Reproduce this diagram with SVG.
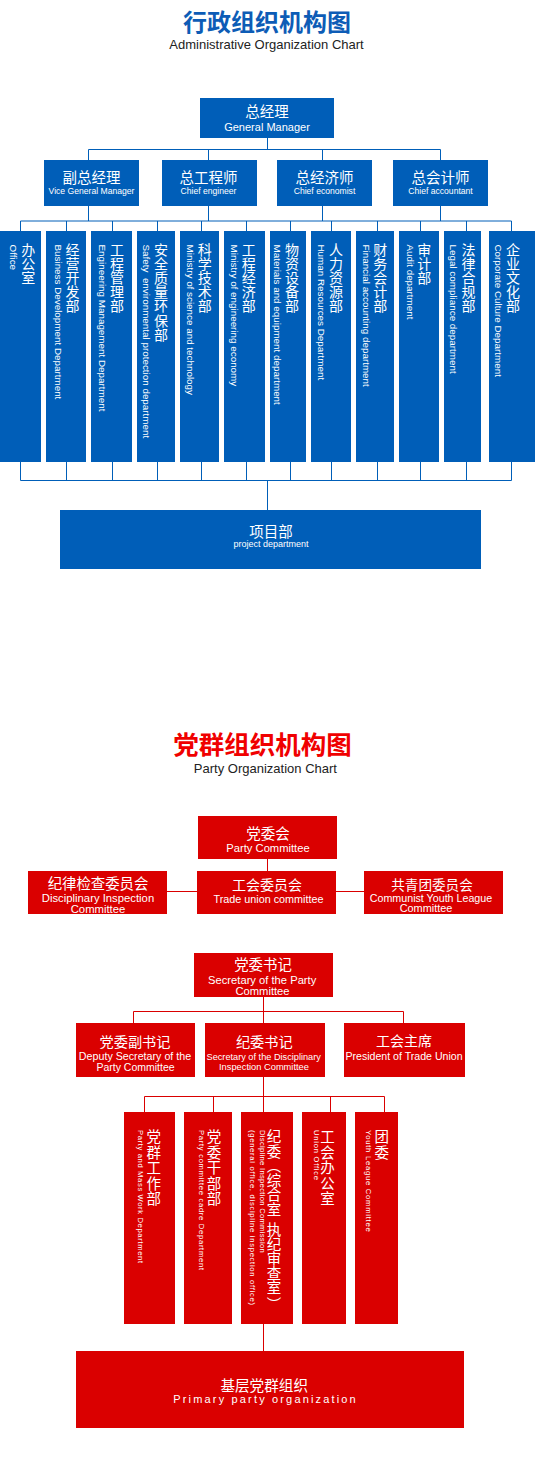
<svg xmlns="http://www.w3.org/2000/svg" width="535" height="1471" viewBox="0 0 535 1471">
<style>
.bb{fill:#005EB8}
.rb{fill:#DA0000}
.bl{stroke:#005EB8;stroke-width:1;fill:none}
.rl{stroke:#DA0000;stroke-width:1;fill:none}
.cn{font-family:"Noto Sans CJK SC",sans-serif;fill:#fff;text-anchor:middle}
.en{font-family:"Liberation Sans",Arial,sans-serif;fill:#fff;text-anchor:middle}
.ve{font-family:"Liberation Sans",Arial,sans-serif;fill:#fff;font-size:9.85px}
.vs{font-family:"Liberation Sans",Arial,sans-serif;fill:#fff;font-size:7.6px}
.vc{font-family:"Noto Sans CJK SC",sans-serif;fill:#fff;text-anchor:middle;font-size:14px}
.vr{font-family:"Noto Sans CJK SC",sans-serif;fill:#fff;text-anchor:middle;font-size:14.5px}
.tt{font-family:"Noto Sans CJK SC",sans-serif;font-weight:bold;text-anchor:middle}
.st{font-family:"Liberation Sans",Arial,sans-serif;fill:#222;text-anchor:middle;font-size:13px}
</style>
<rect x="0" y="0" width="535" height="1471" fill="#fff"/>

<g id="title-admin">
<text class="tt" x="267" y="31" font-size="24" fill="#0D5CB6">行政组织机构图</text>
<text class="st" x="266.5" y="48.5">Administrative Organization Chart</text>
</g>

<g id="connectors-admin">
<path class="bl" d="M267.5 138V149.5M88.5 149.5H440.5M88.5 149.5V160M208.5 149.5V160M322.5 149.5V160M440.5 149.5V160M88.5 206V221M208.5 206V221M322.5 206V221M440.5 206V221M20.5 221H511.5M20.5 221V231M66.5 221V231M112.5 221V231M157.5 221V231M201.5 221V231M246.5 221V231M290.5 221V231M331.5 221V231M377.5 221V231M420.5 221V231M466.5 221V231M511.5 221V231M20.5 462V480.5M66.5 462V480.5M112.5 462V480.5M157.5 462V480.5M201.5 462V480.5M246.5 462V480.5M290.5 462V480.5M331.5 462V480.5M377.5 462V480.5M420.5 462V480.5M466.5 462V480.5M511.5 462V480.5M20.5 480.5H511.5M267.5 480.5V510"/>
</g>

<g id="gm">
<rect class="bb" x="200" y="98" width="134" height="40"/>
<text class="cn" x="267" y="117" font-size="14.5">总经理</text>
<text class="en" x="267" y="131" font-size="11">General Manager</text>
</g>
<g id="vgm">
<rect class="bb" x="44" y="160" width="95" height="46"/>
<text class="cn" x="91.5" y="182.5" font-size="14.5">副总经理</text>
<text class="en" x="91.5" y="193.5" font-size="8.6">Vice General Manager</text>
</g>
<g id="chief-engineer">
<rect class="bb" x="162" y="160" width="95" height="46"/>
<text class="cn" x="208.5" y="182.5" font-size="14.5">总工程师</text>
<text class="en" x="208.5" y="193.5" font-size="8.6">Chief engineer</text>
</g>
<g id="chief-economist">
<rect class="bb" x="277" y="160" width="95" height="46"/>
<text class="cn" x="324.5" y="182.5" font-size="14.5">总经济师</text>
<text class="en" x="324.5" y="193.5" font-size="8.6">Chief economist</text>
</g>
<g id="chief-accountant">
<rect class="bb" x="393" y="160" width="95" height="46"/>
<text class="cn" x="440.5" y="182.5" font-size="14.5">总会计师</text>
<text class="en" x="440.5" y="193.5" font-size="8.6">Chief accountant</text>
</g>

<g id="office">
<rect class="bb" x="0" y="231" width="41" height="231"/>
<text class="vc" x="28.3 28.3 28.3" y="255 269.1 283.2">办公室</text>
<text class="ve" transform="translate(10.3 244.5) rotate(90)">Office</text>
</g>
<g id="business-dev">
<rect class="bb" x="46" y="231" width="40" height="231"/>
<text class="vc" x="72.5 72.5 72.5 72.5 72.5" y="255 269.1 283.2 297.3 311.4">经营开发部</text>
<text class="ve" transform="translate(54.5 244.5) rotate(90)">Business Development Department</text>
</g>
<g id="eng-mgmt">
<rect class="bb" x="91" y="231" width="41" height="231"/>
<text class="vc" x="117 117 117 117 117" y="255 269.1 283.2 297.3 311.4">工程管理部</text>
<text class="ve" transform="translate(99 244.5) rotate(90)">Engineering Management Department</text>
</g>
<g id="safety">
<rect class="bb" x="137" y="231" width="38" height="231"/>
<text class="vc" x="161 161 161 161 161 161 161" y="255 269.1 283.2 297.3 311.4 325.5 339.6">安全质量环保部</text>
<text class="ve" transform="translate(143.3 244.5) rotate(90)">Safety&#160; environmental protection department</text>
</g>
<g id="sci-tech">
<rect class="bb" x="180" y="231" width="39" height="231"/>
<text class="vc" x="204.7 204.7 204.7 204.7 204.7" y="255 269.1 283.2 297.3 311.4">科学技术部</text>
<text class="ve" transform="translate(186.5 244.5) rotate(90)">Ministry of science and technology</text>
</g>
<g id="eng-econ">
<rect class="bb" x="224" y="231" width="41" height="231"/>
<text class="vc" x="248.7 248.7 248.7 248.7 248.7" y="255 269.1 283.2 297.3 311.4">工程经济部</text>
<text class="ve" transform="translate(230.7 244.5) rotate(90)">Ministry of engineering economy</text>
</g>
<g id="materials">
<rect class="bb" x="270" y="231" width="36" height="231"/>
<text class="vc" x="292 292 292 292 292" y="255 269.1 283.2 297.3 311.4">物资设备部</text>
<text class="ve" transform="translate(274.2 244.5) rotate(90)">Materials and equipment department</text>
</g>
<g id="hr">
<rect class="bb" x="311" y="231" width="40" height="231"/>
<text class="vc" x="336 336 336 336 336" y="255 269.1 283.2 297.3 311.4">人力资源部</text>
<text class="ve" transform="translate(318.3 244.5) rotate(90)">Human Resources Department</text>
</g>
<g id="finance">
<rect class="bb" x="356" y="231" width="38" height="231"/>
<text class="vc" x="380.3 380.3 380.3 380.3 380.3" y="255 269.1 283.2 297.3 311.4">财务会计部</text>
<text class="ve" transform="translate(362.7 244.5) rotate(90)">Financial accounting department</text>
</g>
<g id="audit">
<rect class="bb" x="399" y="231" width="40" height="231"/>
<text class="vc" x="424.3 424.3 424.3" y="255 269.1 283.2">审计部</text>
<text class="ve" transform="translate(406.5 244.5) rotate(90)">Audit department</text>
</g>
<g id="legal">
<rect class="bb" x="444" y="231" width="37" height="231"/>
<text class="vc" x="468.5 468.5 468.5 468.5 468.5" y="255 269.1 283.2 297.3 311.4">法律合规部</text>
<text class="ve" transform="translate(450.3 244.5) rotate(90)">Legal compliance department</text>
</g>
<g id="culture">
<rect class="bb" x="489" y="231" width="46" height="231"/>
<text class="vc" x="513 513 513 513 513" y="255 269.1 283.2 297.3 311.4">企业文化部</text>
<text class="ve" transform="translate(494.5 244.5) rotate(90)">Corporate Culture Department</text>
</g>

<g id="project">
<rect class="bb" x="60" y="510" width="421" height="59"/>
<text class="cn" x="271" y="537" font-size="14.5">项目部</text>
<text class="en" x="271" y="546.5" font-size="9">project department</text>
</g>

<g id="title-party">
<text class="tt" x="262.5" y="754" font-size="25.5" fill="#F00000">党群组织机构图</text>
<text class="st" x="265.4" y="773" font-size="12.8">Party Organization Chart</text>
</g>

<g id="connectors-party">
<path class="rl" d="M267.5 859V871M167 891.5H197M336 891.5H364M263.5 997V1023M133.5 1011.5H403.5M133.5 1011.5V1023M403.5 1011.5V1023M263.5 1077V1112M144.5 1096.5H384.5M144.5 1096.5V1112M213.5 1096.5V1112M330.5 1096.5V1112M384.5 1096.5V1112M263.5 1324V1351"/>
</g>

<g id="party-committee">
<rect class="rb" x="198" y="816" width="139" height="43"/>
<text class="cn" x="268" y="839" font-size="14.5">党委会</text>
<text class="en" x="268" y="851.5" font-size="11.2">Party Committee</text>
</g>
<g id="trade-union-committee">
<rect class="rb" x="197" y="871" width="139" height="43"/>
<text class="cn" x="267" y="890.2" font-size="14">工会委员会</text>
<text class="en" x="268.5" y="902.5" font-size="10.8">Trade union committee</text>
</g>
<g id="discipline-committee">
<rect class="rb" x="28" y="871" width="139" height="43"/>
<text class="cn" x="98" y="889" font-size="14.4">纪律检查委员会</text>
<text class="en" x="98" y="902" font-size="11.3">Disciplinary Inspection</text>
<text class="en" x="98" y="912.5" font-size="11.3">Committee</text>
</g>
<g id="youth-league-committee">
<rect class="rb" x="364" y="871" width="139" height="43"/>
<text class="cn" x="432" y="890" font-size="13.6">共青团委员会</text>
<text class="en" x="431" y="901.5" font-size="10.7">Communist Youth League</text>
<text class="en" x="426" y="912" font-size="10.9">Committee</text>
</g>

<g id="party-secretary">
<rect class="rb" x="194" y="953" width="139" height="44"/>
<text class="cn" x="263" y="970" font-size="14.4">党委书记</text>
<text class="en" x="262.2" y="984" font-size="11.2">Secretary of the Party</text>
<text class="en" x="262.5" y="994.5" font-size="11.2">Committee</text>
</g>
<g id="deputy-secretary">
<rect class="rb" x="76" y="1023" width="119" height="54"/>
<text class="cn" x="135" y="1047" font-size="14.2">党委副书记</text>
<text class="en" x="135" y="1060.4" font-size="10.7">Deputy Secretary of the</text>
<text class="en" x="135.5" y="1071" font-size="10.5">Party Committee</text>
</g>
<g id="discipline-secretary">
<rect class="rb" x="205" y="1023" width="120" height="54"/>
<text class="cn" x="264.3" y="1047" font-size="14.2">纪委书记</text>
<text class="en" x="263.7" y="1059.5" font-size="9.2">Secretary of the Disciplinary</text>
<text class="en" x="264" y="1069.5" font-size="9.3">Inspection Committee</text>
</g>
<g id="union-president">
<rect class="rb" x="344" y="1023" width="121" height="54"/>
<text class="cn" x="404" y="1046" font-size="14">工会主席</text>
<text class="en" x="404" y="1060.3" font-size="10.6">President of Trade Union</text>
</g>

<g id="mass-work">
<rect class="rb" x="124" y="1112" width="51" height="212"/>
<text class="vr" x="153.7 153.7 153.7 153.7 153.7" y="1142 1157.5 1173 1188.5 1204">党群工作部</text>
<text class="vs" transform="translate(137.5 1130) rotate(90)" textLength="133" lengthAdjust="spacing">Party and Mass Work Department</text>
</g>
<g id="cadre">
<rect class="rb" x="184" y="1112" width="48" height="212"/>
<text class="vr" x="214 214 214 214 214" y="1142 1157.5 1173 1188.5 1204">党委干部部</text>
<text class="vs" transform="translate(198.5 1130) rotate(90)" textLength="140" lengthAdjust="spacing">Party committee cadre Department</text>
</g>
<g id="discipline-office">
<rect class="rb" x="241" y="1112" width="52" height="212"/>
<text class="vr" x="274 274 274 274 274 274 274 274 274 274 274 274" y="1142 1156.6 1171.2 1185.8 1200.4 1215 1235 1249.6 1264.2 1278.8 1293.4 1310">纪委︵综合室执纪审查室︶</text>
<text class="vs" transform="translate(259.8 1130) rotate(90)" textLength="122.7" lengthAdjust="spacing">Discipline Inspection Commission</text>
<text class="vs" transform="translate(249.8 1130) rotate(90)" textLength="175" lengthAdjust="spacing">(general office, discipline inspection office)</text>
</g>
<g id="union-office">
<rect class="rb" x="302" y="1112" width="44" height="212"/>
<text class="vr" x="327.5 327.5 327.5 327.5 327.5" y="1142 1157.5 1173 1188.5 1204">工会办公室</text>
<text class="vs" transform="translate(313.7 1130) rotate(90)" textLength="50" lengthAdjust="spacing">Union Office</text>
</g>
<g id="youth-league">
<rect class="rb" x="355" y="1112" width="43" height="212"/>
<text class="vr" x="381.7 381.7" y="1142 1157.5">团委</text>
<text class="vs" transform="translate(366.2 1130) rotate(90)" textLength="101.7" lengthAdjust="spacing">Youth League Committee</text>
</g>

<g id="primary-org">
<rect class="rb" x="76" y="1351" width="388" height="77"/>
<text class="cn" x="264.2" y="1390.5" font-size="14.6">基层党群组织</text>
<text font-family="Liberation Sans, Arial, sans-serif" fill="#fff" font-size="11" x="173.3" y="1403" textLength="182.4" lengthAdjust="spacing">Primary party organization</text>
</g>
</svg>
